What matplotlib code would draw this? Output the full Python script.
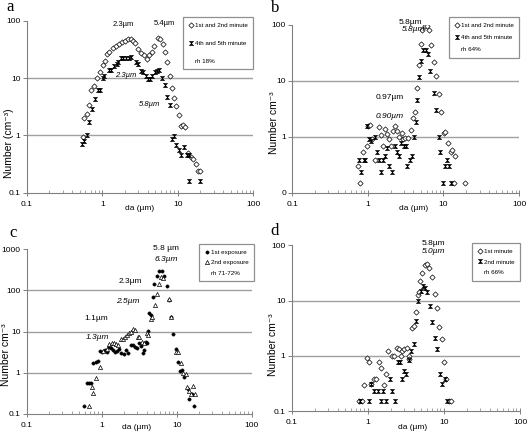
import matplotlib
matplotlib.use('Agg')
import matplotlib.pyplot as plt
from matplotlib.path import Path
from matplotlib.lines import Line2D
from matplotlib.ticker import LogLocator, NullFormatter, NullLocator
import numpy as np

plt.rcParams['font.family'] = ['Liberation Sans', 'DejaVu Sans']

# ---------------- data ----------------
x_ticks = [0.1, 1, 10, 100]
x_ticklabels = ['0.1', '1', '10', '100']

# panel a (rh 18%)
a_da_1 = [0.55, 0.58, 0.635, 0.675, 0.72, 0.77, 0.86, 0.93, 1.01, 1.08, 1.15, 1.24, 1.37, 1.52, 1.68,
          1.85, 2.02, 2.21, 2.4, 2.57, 2.74, 3.0, 3.26, 3.57, 3.87, 4.16, 4.5, 4.9, 5.4, 5.88,
          6.3, 6.7, 7.1, 7.8, 8.4, 8.9, 9.5, 10.4, 10.9, 11.6, 12.6, 13.6, 14.8, 16.0, 17.4, 18.5, 19.5]
a_n_1 = [0.93, 2.0, 2.36, 3.4, 6.3, 7.3, 9.9, 12.5, 16.9, 19.5, 26.6, 29, 33, 36.6, 39,
         42.5, 44, 48, 48, 44, 40.8, 32.5, 27, 24.8, 21.5, 25, 29, 36.6, 49.8, 48,
         40, 29, 19, 11, 6.8, 4.5, 3.2, 2.26, 1.43, 1.5, 1.4, 0.49, 0.42, 0.38, 0.316, 0.236, 0.236]
a_da_2 = [0.546, 0.58, 0.635, 0.675, 0.74, 0.795, 0.87, 0.925, 1.03, 1.07, 1.23, 1.29, 1.42, 1.55, 1.63,
          1.75, 1.9, 2.06, 2.24, 2.4, 2.8, 3.0, 3.26, 3.5, 3.8, 4.07, 4.3, 4.6, 5.0, 5.25,
          5.7, 6.24, 6.7, 7.13, 7.8, 8.3, 8.8, 9.55, 10.4, 11.2, 12.1, 13.1, 13.9, 13.9, 19.6]
a_n_2 = [0.706, 0.785, 1.0, 1.71, 2.92, 4.36, 6.26, 6.26, 10.1, 11, 13.8, 13.8, 16, 17.5, 19.3,
         22, 22.7, 22.7, 22.7, 23.2, 18.8, 17.5, 13.4, 12.7, 10.7, 9.7, 9.7, 11, 12.6, 13,
         13.6, 9.85, 7.55, 4.66, 3.43, 0.86, 0.99, 0.67, 0.55, 0.46, 0.63, 0.46, 0.46, 0.158, 0.158]

# panel b (rh 64%)
b_da_1 = [0.738, 0.783, 0.85, 0.96, 1.0, 1.06, 1.12, 1.24, 1.4, 1.47, 1.58, 1.68, 1.8, 1.9, 2.0,
          2.16, 2.28, 2.44, 2.62, 2.79, 2.93, 3.08, 3.41, 3.67, 3.9, 4.14, 4.49, 4.72, 4.97, 5.28,
          5.72, 6.08, 6.53, 6.94, 7.45, 8.07, 8.67, 9.3, 10.1, 10.6, 11.4, 12.4, 13.0, 13.7, 14.1, 19.5]
b_n_1 = [0.30, 0.147, 0.525, 0.69, 1.55, 1.64, 0.9, 0.38, 1.51, 1.07, 0.69, 1.39, 1.12, 0.93, 0.69,
         1.28, 1.59, 1.28, 1.01, 1.15, 0.9, 0.97, 0.97, 1.32, 2.21, 2.72, 7.5, 19, 46, 83,
         95, 97, 83, 44.5, 21.5, 12.1, 5.78, 2.8, 1.15, 1.24, 0.76, 0.525, 0.58, 0.147, 0.45, 0.147]
b_da_2 = [0.76, 0.817, 0.885, 0.93, 0.98, 1.04, 1.11, 1.24, 1.33, 1.4, 1.5, 1.58, 1.66, 1.8, 1.91,
          2.1, 2.28, 2.44, 2.57, 2.76, 2.99, 3.17, 3.31, 3.59, 3.81, 4.05, 4.27, 4.49, 4.72, 4.97,
          5.38, 5.84, 6.21, 6.73, 7.45, 8.07, 8.67, 9.12, 9.8, 10.4, 11.2, 11.7, 12.6]
b_n_2 = [0.38, 0.23, 0.38, 0.38, 1.55, 0.93, 0.85, 1.0, 0.54, 0.38, 0.23, 0.38, 0.46, 0.62, 0.3,
         0.23, 0.69, 0.54, 0.46, 0.79, 0.69, 0.69, 0.3, 0.38, 0.46, 1.0, 1.85, 4.52, 11.5, 22.7,
         35.3, 36.3, 29.9, 15.1, 6.1, 3.0, 1.0, 0.54, 0.147, 0.3, 0.38, 0.3, 0.147]

# panel c (rh 71-72%)
c_da_1 = [0.58, 0.63, 0.678, 0.72, 0.774, 0.832, 0.893, 0.95, 1.02, 1.09, 1.17, 1.24, 1.32, 1.4, 1.51,
          1.62, 1.72, 1.83, 1.99, 2.11, 2.27, 2.44, 2.59, 2.78, 2.93, 3.11, 3.31, 3.52, 3.71, 3.9,
          4.05, 4.15, 4.28, 4.5, 4.79, 5.03, 5.41, 5.87, 6.31, 6.85, 7.36, 7.91, 8.5, 9.03, 9.8,
          10.5, 11.1, 11.8, 12.7, 14.0, 14.6, 15.8, 17.0]
c_n_1 = [0.154, 0.55, 0.55, 0.55, 1.69, 1.79, 1.89, 3.38, 3.19, 3.57, 3.19, 4.3, 4.07, 3.5, 3.19,
         3.38, 3.85, 3.07, 2.9, 3.57, 3.07, 4.64, 4.8, 4.2, 4.0, 5.4, 4.47, 2.96, 3.57, 5.6,
         5.2, 10.5, 27.5, 25.5, 70, 143, 228, 302, 302, 220, 125, 58, 23, 8.8, 3.85,
         1.85, 1.1, 1.16, 0.76, 0.41, 0.23, 0.3, 0.154]
c_da_2 = [0.685, 0.736, 0.774, 0.832, 0.95, 1.05, 1.17, 1.27, 1.36, 1.46, 1.55, 1.67, 1.79, 1.9, 2.05,
          2.2, 2.34, 2.49, 2.64, 2.78, 3.02, 3.18, 3.45, 3.67, 3.98, 4.19, 4.5, 4.74, 5.09, 5.41,
          5.75, 6.18, 6.64, 7.91, 8.5, 9.7, 10.3, 11.3, 12.0, 13.2, 13.6, 14.4, 15.4, 16.3, 17.5]
c_n_2 = [0.154, 0.44, 0.31, 0.73, 1.4, 3.4, 3.7, 4.9, 5.2, 5.4, 5.0, 4.6, 6.75, 6.5, 7.55,
         8.1, 9.1, 10, 11.4, 10.8, 7.55, 7.55, 5.6, 5.4, 9.1, 8.1, 20, 22, 44, 81,
         143, 207, 200, 61, 22.8, 3.2, 3.2, 1.69, 1.0, 0.91, 0.45, 0.36, 0.3, 0.46, 0.3]

# panel d (rh 66%)
d_da_1 = [0.77, 0.84, 0.895, 0.97, 1.05, 1.11, 1.22, 1.28, 1.41, 1.48, 1.61, 1.74, 1.85, 2.11, 2.24,
          2.41, 2.54, 2.72, 2.83, 3.01, 3.23, 3.43, 3.53, 3.8, 3.99, 4.24, 4.5, 4.69, 4.88, 5.19,
          5.62, 5.97, 6.41, 6.95, 7.54, 8.09, 8.68, 9.42, 10.0, 10.7, 11.6, 12.5]
d_n_1 = [0.154, 0.154, 0.3, 0.93, 0.76, 0.31, 0.38, 0.38, 0.76, 0.6, 0.3, 0.47, 1.2, 1.0, 1.0,
         1.36, 1.32, 1.0, 1.2, 1.32, 1.36, 1.0, 0.89, 3.12, 3.49, 6.3, 12.7, 14.3, 22.7, 32,
         43.5, 45.4, 38.4, 26.8, 13.4, 7.27, 3.25, 2.0, 0.77, 0.38, 0.154, 0.154]
d_da_2 = [0.78, 1.05, 1.11, 1.2, 1.38, 1.47, 1.58, 1.71, 1.97, 2.09, 2.29, 2.48, 2.61, 2.8, 2.98,
          3.19, 3.46, 3.68, 3.99, 4.24, 4.55, 4.98, 5.29, 5.68, 6.04, 6.48, 7.02, 7.54, 8.09, 8.77,
          9.31, 10.2, 10.96]
d_n_2 = [0.154, 0.154, 0.31, 0.233, 0.233, 0.154, 0.233, 0.154, 0.38, 0.233, 0.154, 0.76, 0.76, 0.38, 0.536,
         0.467, 0.85, 1.23, 1.65, 4.29, 9.86, 15, 18.4, 16.7, 14, 8.0, 4.17, 2.14, 1.32, 0.467,
         0.31, 0.38, 0.154]

# ---------------- style ----------------
hourglass = Path([(-1, 1), (1, 1), (-1, -1), (1, -1), (-1, 1)],
                 [Path.MOVETO, Path.LINETO, Path.LINETO, Path.LINETO, Path.CLOSEPOLY])

STY = {
    'diamond': dict(marker='D', ms=2.7, mfc='white', mec='black', mew=0.5, ls='none'),
    'hour': dict(marker=hourglass, ms=3.0, mfc='black', mec='black', mew=0.4, ls='none'),
    'dot': dict(marker='o', ms=2.4, mfc='black', mec='black', mew=0.3, ls='none'),
    'tri': dict(marker='^', ms=3.0, mfc='white', mec='black', mew=0.5, ls='none'),
}

GRAY = '#a0a0a0'
AXC = '#808080'

fig = plt.figure(figsize=(5.28, 4.33), dpi=100)


def setup(ax, ylim, yticks, yticklabels, ylabel, ylab_pos, xlab_pos):
    ax.set_xscale('log')
    ax.set_yscale('log')
    ax.set_xlim(0.1, 100)
    ax.set_ylim(*ylim)
    for s in ['top', 'right']:
        ax.spines[s].set_visible(False)
    for s in ['left', 'bottom']:
        ax.spines[s].set_color(AXC)
        ax.spines[s].set_linewidth(0.8)
    ax.set_xticks(x_ticks)
    ax.set_xticklabels(x_ticklabels)
    ax.xaxis.set_minor_locator(LogLocator(base=10, subs=np.arange(2, 10)))
    ax.xaxis.set_minor_formatter(NullFormatter())
    ax.set_yticks(yticks)
    ax.set_yticklabels(yticklabels)
    ax.yaxis.set_minor_locator(NullLocator())
    for v in yticks[1:-1]:
        ax.axhline(v, color=GRAY, lw=1.0, zorder=0)
    ax.tick_params(axis='x', which='major', direction='inout', length=4, width=0.7,
                   color=AXC, labelsize=6, pad=4)
    ax.tick_params(axis='x', which='minor', direction='in', length=2, width=0.5, color=AXC)
    ax.tick_params(axis='y', which='major', direction='out', length=3, width=0.7,
                   color=AXC, labelsize=6, pad=1.5)
    ax.set_xlabel('da (µm)', fontsize=6)
    ax.xaxis.set_label_coords(*xlab_pos)
    ax.set_ylabel(ylabel, fontsize=7.5)
    ax.yaxis.set_label_coords(*ylab_pos)


def add_legend(ax, handles, labels, anchor, spacing):
    leg = ax.legend(handles, labels, loc='upper right', bbox_to_anchor=anchor,
                    fontsize=4.5, frameon=True, fancybox=False, edgecolor='#909090',
                    framealpha=1, labelspacing=spacing, handlelength=0.6,
                    handletextpad=0.3, borderpad=0.9, borderaxespad=0)
    leg.get_frame().set_linewidth(0.9)
    leg.set_zorder(5)


def h(kind):
    return Line2D([], [], **STY[kind])


blank = Line2D([], [], ls='none', marker='none')

# ---------------- panel a ----------------
ax = fig.add_axes([0.0506, 0.555, 0.4291, 0.3972])
setup(ax, (0.1, 100), [0.1, 1, 10, 100], ['0.1', '1', '10', '100'],
      'Number (cm⁻³)', (-0.058, 0.29), (0.5, -0.072))
ax.plot(a_da_1, a_n_1, **STY['diamond'], zorder=3)
ax.plot(a_da_2, a_n_2, **STY['hour'], zorder=3)
add_legend(ax, [h('diamond'), h('hour'), blank],
           ['1st and 2nd minute', '4th and 5th minute', 'rh 18%'], (0.999, 1.021), 2.0)
ax.text(1.9, 85, '2.3µm', fontsize=5.5, ha='center', va='center')
ax.text(6.56, 90, '5.4µm', fontsize=5.5, ha='center', va='center')
ax.text(2.04, 11, '2.3µm', fontsize=5.5, ha='center', va='center', style='italic')
ax.text(4.28, 3.5, '5.8µm', fontsize=5.5, ha='center', va='center', style='italic')

# ---------------- panel b ----------------
ax = fig.add_axes([0.5536, 0.555, 0.4294, 0.3873])
setup(ax, (0.1, 100), [0.1, 1, 10, 100], ['0', '1', '10', '100'],
      'Number cm⁻³', (-0.059, 0.42), (0.537, -0.072))
ax.plot(b_da_1, b_n_1, **STY['diamond'], zorder=3)
ax.plot(b_da_2, b_n_2, **STY['hour'], zorder=3)
add_legend(ax, [h('diamond'), h('hour'), blank],
           ['1st and 2nd minute', '4th and 5th minute', 'rh 64%'], (1.0, 1.048), 1.1)
ax.text(3.7, 112, '5.8µm', fontsize=6, ha='center', va='center', clip_on=False)
ax.text(4.05, 83, '5.8µm', fontsize=6, ha='center', va='center', style='italic')
ax.text(1.93, 5.0, '0.97µm', fontsize=6, ha='center', va='center')
ax.text(1.93, 2.34, '0.90µm', fontsize=6, ha='center', va='center', style='italic')

# ---------------- panel c ----------------
ax = fig.add_axes([0.0506, 0.0446, 0.4261, 0.3796])
setup(ax, (0.1, 1000), [0.1, 1, 10, 100, 1000], ['0.1', '1', '10', '100', '1000'],
      'Number cm⁻³', (-0.069, 0.36), (0.489, -0.063))
ax.plot(c_da_1, c_n_1, **STY['dot'], zorder=3)
ax.plot(c_da_2, c_n_2, **STY['tri'], zorder=3)
add_legend(ax, [h('dot'), h('tri'), blank],
           ['1st exposure', '2nd exposure', 'rh 71-72%'], (1.01, 1.032), 0.8)
ax.text(7.13, 1038, '5.8 µm', fontsize=6, ha='center', va='center', clip_on=False)
ax.text(7.3, 570, '6.3µm', fontsize=6, ha='center', va='center', style='italic')
ax.text(2.39, 163, '2.3µm', fontsize=6, ha='center', va='center')
ax.text(2.24, 54, '2.5µm', fontsize=6, ha='center', va='center', style='italic')
ax.text(0.84, 20.7, '1.1µm', fontsize=6, ha='center', va='center')
ax.text(0.89, 7.1, '1.3µm', fontsize=6, ha='center', va='center', style='italic')

# ---------------- panel d ----------------
ax = fig.add_axes([0.5525, 0.0508, 0.4323, 0.3827])
setup(ax, (0.1, 100), [0.1, 1, 10, 100], ['0.1', '1', '10', '100'],
      'Number cm⁻³', (-0.06, 0.40), (0.531, -0.078))
ax.plot(d_da_1, d_n_1, **STY['diamond'], zorder=3)
ax.plot(d_da_2, d_n_2, **STY['hour'], zorder=3)
add_legend(ax, [h('diamond'), h('hour'), blank],
           ['1st minute', '2nd minute', 'rh 66%'], (1.0, 1.014), 0.85)
ax.text(7.38, 107, '5.8µm', fontsize=6, ha='center', va='center', clip_on=False)
ax.text(7.38, 78, '5.0µm', fontsize=6, ha='center', va='center', style='italic')

# panel letters
for (fx, fy, s) in [(0.019, 0.984, 'a'), (0.522, 0.982, 'b'), (0.025, 0.463, 'c'), (0.52, 0.466, 'd')]:
    fig.text(fx, fy, s, fontsize=12, family='Liberation Serif', ha='center', va='center')

fig.savefig('out.png', dpi=100)
